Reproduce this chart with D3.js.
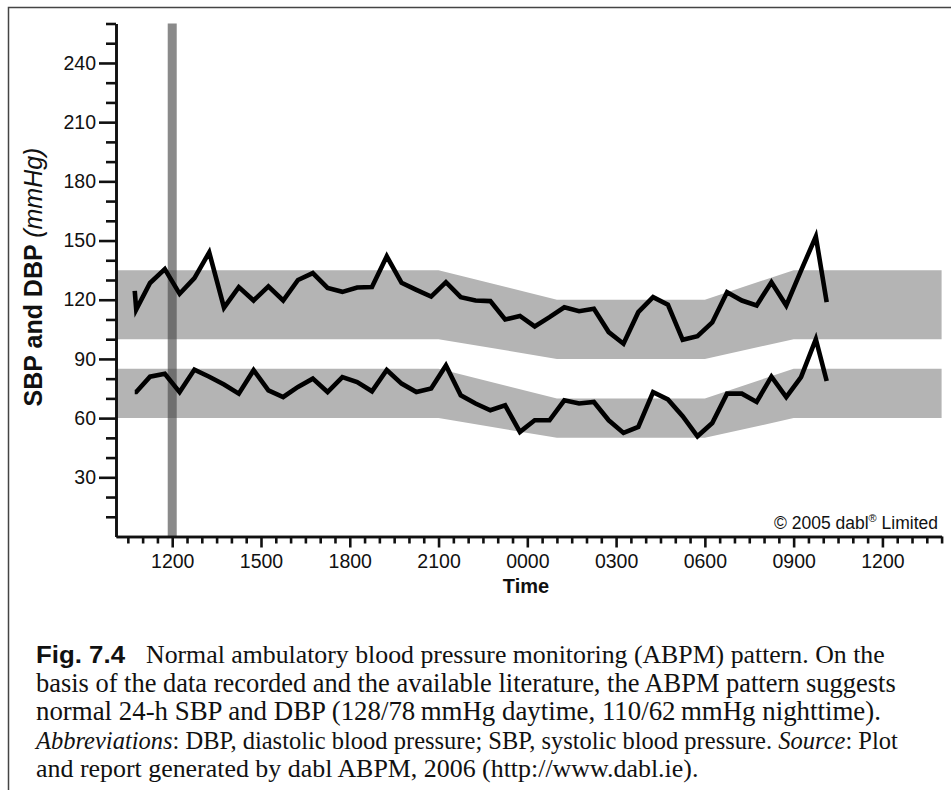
<!DOCTYPE html>
<html>
<head>
<meta charset="utf-8">
<script src="https://cdn.jsdelivr.net/npm/d3@7/dist/d3.min.js"></script>
<style>
  body { margin: 0; background: #fff; }
  svg text { font-family: "Liberation Sans", Arial, Helvetica, sans-serif; fill: #111; }
  svg text.caption { font-family: "Liberation Serif", "Times New Roman", serif; }
</style>
</head>
<body>
<div id="chart"></div>
<script>
// readings (time of day, next day after midnight)
const times = ["10:44", "10:47", "11:15", "11:45", "12:15", "12:45", "13:15", "13:45", "14:15", "14:45",
    "15:15", "15:45", "16:15", "16:45", "17:15", "17:45", "18:15", "18:45", "19:15", "19:45",
    "20:15", "20:45", "21:15", "21:45", "22:15", "22:45", "23:15", "23:45", "00:15", "00:45",
    "01:15", "01:45", "02:15", "02:45", "03:15", "03:45", "04:15", "04:45", "05:15", "05:45",
    "06:15", "06:45", "07:15", "07:45", "08:15", "08:45", "09:15", "09:45", "10:07"]
const sbp = [124.5, 115, 128.5, 135.5, 123, 131, 144, 116, 126.4, 119.6,
    126.8, 119.6, 130, 133.5, 126, 124, 126.2, 126.4, 142, 128.6,
    125, 121.6, 128.9, 121.3, 119.6, 119.3, 110, 111.8, 106.5, 111.2,
    116.2, 114.2, 115.4, 103.6, 97.7, 113.7, 121.3, 117.5, 99.7, 101.5,
    108.5, 123.8, 119.6, 117.1, 128.9, 117.1, 134.8, 152, 118.8]
const dbp = [73.2, 73.2, 81, 82.5, 73.2, 84.6, 81, 77, 72.4, 84.3,
    74.1, 70.7, 75.8, 80, 73.2, 80.8, 78.3, 73.6, 84.4, 77.5,
    73.2, 75, 86.7, 71.6, 67.4, 64, 66.5, 53, 58.9, 58.9,
    69, 67.4, 68.2, 58.9, 52.5, 55.5, 73.2, 69.5, 61, 50.8,
    57.5, 72.4, 72.4, 68.2, 81, 70.7, 80.8, 100, 78.8]

// normal limits (day / night)
const bandTimes = ["10:06", "21:00", "01:00", "06:00", "09:00", "14:00"]
const sbpUpper = [135, 135, 120, 120, 135, 135]
const sbpLower = [100, 100, 90, 90, 100, 100]
const dbpUpper = [85, 85, 70, 70, 85, 85]
const dbpLower = [60, 60, 50, 50, 60, 60]

const markerTime = "12:00"
const yTickLabels = [30, 60, 90, 120, 150, 180, 210, 240]
const xTickLabels = ["1200", "1500", "1800", "2100", "0000", "0300", "0600", "0900", "1200"]

// turn HH:MM list into running hours, adding a day after midnight
const toHours = (list) => {
    let prev = -1, offset = 0
    return list.map(t => {
        const [h, m] = t.split(":").map(Number)
        let v = h + m / 60 + offset
        if (v < prev) { offset += 24; v += 24 }
        prev = v
        return v
    })
}
const hrs = toHours(times)
const bandHrs = toHours(bandTimes)

const width = 951, height = 790

const svg = d3.select("#chart").append("svg")
    .attr("width", width)
    .attr("height", height)

// figure frame
svg.append("path")
    .attr("d", `M${width},7.5 H8.5 V${height}`)
    .attr("fill", "none")
    .attr("stroke", "#444")
    .attr("stroke-width", 1.5)

const x = d3.scaleLinear().domain([10.1, 38]).range([116, 941.6])
const y = d3.scaleLinear().domain([0, 260]).range([536.5, 23.5])

// bands
const band = (upper, lower) => d3.area()
    .x((d, i) => x(bandHrs[i]))
    .y0((d, i) => y(lower[i]))
    .y1((d, i) => y(upper[i]))(bandHrs)

svg.append("path").attr("d", band(sbpUpper, sbpLower)).attr("fill", "#b4b4b4")
svg.append("path").attr("d", band(dbpUpper, dbpLower)).attr("fill", "#b4b4b4")

// vertical marker at 1200
const mx = x(toHours([markerTime])[0])
svg.append("rect")
    .attr("x", mx - 4.5)
    .attr("y", y(260))
    .attr("width", 9)
    .attr("height", y(0) - y(260))
    .attr("fill", "#484848")
    .attr("fill-opacity", 0.64)

// readings
const line = (vals) => d3.line()
    .x((d, i) => x(hrs[i]))
    .y((d) => y(d))(vals)

for (const vals of [sbp, dbp]) {
    svg.append("path")
        .attr("d", line(vals))
        .attr("fill", "none")
        .attr("stroke", "#000")
        .attr("stroke-width", 4.6)
        .attr("stroke-linejoin", "miter")
        .attr("stroke-miterlimit", 8)
}

// y axis
const yMinor = d3.range(10, 261, 10).filter(v => v % 30 !== 0)
svg.append("g")
    .attr("class", "y-minor")
    .attr("transform", `translate(${x(10.1)},0)`)
    .call(d3.axisLeft(y).tickValues(yMinor).tickSize(10).tickSizeOuter(0).tickFormat(""))
svg.append("g")
    .attr("class", "y-major")
    .attr("transform", `translate(${x(10.1)},0)`)
    .call(d3.axisLeft(y).tickValues(yTickLabels).tickSize(17).tickSizeOuter(0).tickPadding(3))

// x axis
const xMajor = xTickLabels.map((d, i) => 12 + i * 3)
const xMinor = d3.range(10.5, 38.01, 0.5).filter(h => !xMajor.includes(h))
svg.append("g")
    .attr("class", "x-minor")
    .attr("transform", `translate(0,${y(0)})`)
    .call(d3.axisBottom(x).tickValues(xMinor).tickSize(7).tickSizeOuter(0).tickFormat(""))
svg.append("g")
    .attr("class", "x-major")
    .attr("transform", `translate(0,${y(0)})`)
    .call(d3.axisBottom(x).tickValues(xMajor).tickSize(11).tickSizeOuter(0).tickPadding(7)
        .tickFormat((d, i) => xTickLabels[i]))

svg.selectAll(".tick line, .domain")
    .attr("stroke", "#111")
    .attr("stroke-width", 2.6)
svg.selectAll(".y-major text, .x-major text")
    .style("font-size", "19.5px")
    .attr("fill", "#1a1a1a")

// axis titles
const yTitle = svg.append("text")
    .attr("transform", "translate(42,277) rotate(-90)")
    .attr("text-anchor", "middle")
    .style("font-size", "25px")
yTitle.append("tspan").style("font-weight", "bold").text("SBP and DBP ")
yTitle.append("tspan").style("font-style", "italic").text("(mmHg)")

svg.append("text")
    .attr("x", 526)
    .attr("y", 593)
    .attr("text-anchor", "middle")
    .style("font-size", "20px")
    .style("font-weight", "bold")
    .text("Time")

// copyright
const copy = svg.append("text")
    .attr("x", 938)
    .attr("y", 529)
    .attr("text-anchor", "end")
    .style("font-size", "17.5px")
    .attr("fill", "#222")
copy.append("tspan").text("\u00a9 2005 dabl")
copy.append("tspan").attr("dy", -7).style("font-size", "11px").text("\u00ae")
copy.append("tspan").attr("dy", 7).text(" Limited")

// caption
const cap = svg.append("g")
cap.append("text")
    .attr("x", 36).attr("y", 663)
    .style("font-size", "23px")
    .style("font-weight", "bold")
    .attr("textLength", 89)
    .attr("lengthAdjust", "spacingAndGlyphs")
    .text("Fig. 7.4")

// size each caption line so that it ends where the reference line ends
const capLine = (xPos, yPos, len) => {
    const t = cap.append("text").attr("class", "caption")
        .attr("x", xPos).attr("y", yPos)
        .style("font-size", "25px")
    t.fit = () => {
        const w = t.node().getComputedTextLength()
        t.style("font-size", `${Math.min(27, 25 * len / w)}px`)
    }
    return t
}

const lines = []
lines.push(capLine(146, 663, 739).text("Normal ambulatory blood pressure monitoring (ABPM) pattern. On the"))
lines.push(capLine(36, 691.5, 860).text("basis of the data recorded and the available literature, the ABPM pattern suggests"))
lines.push(capLine(36, 720, 845).text("normal 24-h SBP and DBP (128/78\u2009mmHg daytime, 110/62\u2009mmHg nighttime)."))
const l4 = capLine(36, 748.5, 862)
l4.append("tspan").style("font-style", "italic").text("Abbreviations")
l4.append("tspan").text(": DBP, diastolic blood pressure; SBP, systolic blood pressure. ")
l4.append("tspan").style("font-style", "italic").text("Source")
l4.append("tspan").text(": Plot")
lines.push(l4)
lines.push(capLine(36, 777, 663).text("and report generated by dabl ABPM, 2006 (http://www.dabl.ie)."))
lines.forEach(t => t.fit())
</script>
</body>
</html>
